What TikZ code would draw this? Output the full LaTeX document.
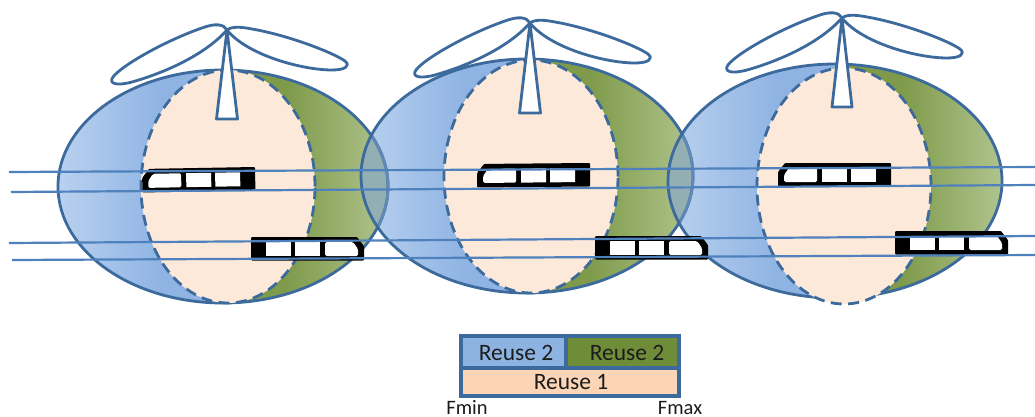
\documentclass[tikz,border=0pt]{standalone}
\usepackage{fontspec}
\setmainfont{Carlito}
\definecolor{lineblue}{HTML}{3C6A9C}
\definecolor{railblue}{HTML}{4F81BD}
\definecolor{blueL}{HTML}{BAD1EF}
\definecolor{blueD}{HTML}{8FB4E3}
\definecolor{greenL}{HTML}{B0C48E}
\definecolor{greenD}{HTML}{7E9A4A}
\definecolor{innerfill}{HTML}{FDE9D9}
\definecolor{lensfill}{HTML}{93AFB4}
\definecolor{lenslineblue}{HTML}{5F88B2}
\definecolor{legblue}{HTML}{8DB3E2}
\definecolor{leggreen}{HTML}{6F8D38}
\definecolor{legpeach}{HTML}{FBD5B5}
\definecolor{txt}{HTML}{1C1C1C}
\tikzset{
  outerline/.style={draw=lineblue,line width=2.8pt},
  innerline/.style={draw=lineblue,line width=2.8pt,dash pattern=on 11pt off 6.5pt},
  rail/.style={draw=railblue,line width=2.2pt},
  turbine/.style={draw=lineblue,line width=2.8pt,fill=white,line join=round},
  legbox/.style={draw=lineblue,line width=3.4pt},
  legtxt/.style={text=txt,font=\fontsize{23.5}{25}\selectfont,inner sep=0pt},
  endtxt/.style={text=txt,font=\fontsize{20.5}{24}\selectfont,inner sep=0pt}
}
% outer: cx cy rx ry ; inner: ix icy irx iry
\newcommand{\cellfill}[8]{%
  \begin{scope}
    \clip (#1,#2) ellipse [x radius=#3pt,y radius=#4pt];
    \fill[blueD] ({#5-#7+20},{#2-#4-3}) rectangle (#5,{#2+#4+3});
    \shade[left color=blueL,right color=blueD] ({#1-#3},{#2-#4-3}) rectangle ({#5-#7+20},{#2+#4+3});
    \fill[greenD] (#5,{#2-#4-3}) rectangle ({#5+#7-30},{#2+#4+3});
    \shade[left color=greenD,right color=greenL] ({#5+#7-30},{#2-#4-3}) rectangle ({#1+#3},{#2+#4+3});
  \end{scope}}
\newcommand{\cellouter}[4]{\draw[outerline] (#1,#2) ellipse [x radius=#3pt,y radius=#4pt];}
\newcommand{\cellinner}[4]{%
  \fill[innerfill] (#1,#2) ellipse [x radius=#3pt,y radius=#4pt];
  \draw[innerline] (#1,#2) ellipse [x radius=#3pt,y radius=#4pt];}
% lens of two outer ellipses
\newcommand{\lens}[8]{%
  \begin{scope}
    \clip (#1,#2) ellipse [x radius=#3pt,y radius=#4pt];
    \fill[lensfill] (#5,#6) ellipse [x radius=#7pt,y radius=#8pt];
  \end{scope}}
% train: shape drawn facing right, origin at top-left of the body
\newcommand{\trainbody}{%
  \fill[black,rounded corners=1pt] (0,0) -- (106,0) -- (113,9) -- (113,23.5) -- (0,23.5) -- cycle;
  \fill[white] (15,5) rectangle (40,19);
  \fill[white] (44,5) rectangle (69,19);
  \fill[white,rounded corners=1.5pt] (74,5) -- (102,5) -- (107,12) -- (107,19) -- (74,19) -- cycle;}
\newcommand{\trainR}[3]{\begin{scope}[shift={(#1,#2)},rotate=#3]\trainbody\end{scope}}
\newcommand{\trainL}[3]{\begin{scope}[shift={(#1,#2)},rotate=#3,xscale=-1]\trainbody\end{scope}}
% turbine: apex x, apex y, base half width, base y
\newcommand{\windmill}[4]{%
  \begin{scope}[shift={(#1,#2)}]
    \draw[turbine] (0,0) .. controls (-3,-6) and (-12,-7) .. (-25,-2)
      .. controls (-60,10) and (-105,35) .. (-114,47)
      .. controls (-119,54) and (-110,56) .. (-95,52)
      .. controls (-70,45) and (-25,28) .. (0,0) -- cycle;
    \draw[turbine] (0,0) .. controls (5,-4) and (15,-3) .. (25,-1)
      .. controls (60,5) and (105,22) .. (118,31)
      .. controls (124,36) and (118,40) .. (105,40)
      .. controls (75,40) and (20,25) .. (0,0) -- cycle;
    \draw[turbine] (0,0) -- ({-#3},#4) -- (#3,#4) -- cycle;
  \end{scope}}
\begin{document}
\begin{tikzpicture}[x=1pt,y=-1pt]
\useasboundingbox (0,0) rectangle (1035,417);
\fill[white] (0,0) rectangle (1035,417);
% fills
\cellfill{223}{186.5}{165}{116.5}{228}{186.5}{87}{116.5}
\cellfill{527}{176}{166}{117}{531}{176.5}{87}{116.5}
\cellfill{835}{181}{167}{117}{844}{186}{87}{118}
\lens{223}{186.5}{165}{116.5}{527}{176}{166}{117}
\lens{527}{176}{166}{117}{835}{181}{167}{117}
% outlines
\cellouter{223}{186.5}{165}{116.5}
\begin{scope}
  \clip (527,176) ellipse [x radius=166pt,y radius=117pt];
  \draw[draw=lenslineblue,line width=2.8pt] (223,186.5) ellipse [x radius=165pt,y radius=116.5pt];
\end{scope}
\cellouter{527}{176}{166}{117}
\begin{scope}
  \clip (835,181) ellipse [x radius=167pt,y radius=117pt];
  \draw[draw=lenslineblue,line width=2.8pt] (527,176) ellipse [x radius=166pt,y radius=117pt];
\end{scope}
\cellouter{835}{181}{167}{117}
% reuse 1 zones
\cellinner{228}{186.5}{87}{116.5}
\cellinner{531}{176.5}{87}{116.5}
\cellinner{844}{186}{87}{118}
% turbines
\windmill{227}{30}{10.5}{89}
\windmill{530}{23}{10.5}{90}
\windmill{842}{18}{10}{89}
% trains
\trainL{255}{167}{1}
\trainR{251}{237}{0}
\trainL{590}{163}{0.5}
\trainR{595}{236}{0}
\trainL{891}{163}{0}
\trainR{895}{231}{0}
% rails
\draw[rail] (9,172) -- (1035,167);
\draw[rail] (11,192) -- (1035,185);
\draw[rail] (9,243) -- (1035,236);
\draw[rail] (12,260) -- (1035,255);
% legend
\fill[legblue] (461,336) rectangle (566,368);
\fill[leggreen] (566,336) rectangle (679,368);
\fill[legpeach] (461,368) rectangle (679,396);
\draw[legbox] (461,336) rectangle (679,396);
\draw[legbox] (461,368) -- (679,368);
\draw[legbox] (566,336) -- (566,368);
\node[legtxt] (r2a) at (516,353) {Reuse 2};
\node[legtxt] (r2b) at (627,353) {Reuse 2};
\node[legtxt] (r1) at (571,382) {Reuse 1};
\node[endtxt] (fmin) at (467,407.5) {Fmin};
\node[endtxt] (fmax) at (680,407.5) {Fmax};
\end{tikzpicture}
\end{document}
